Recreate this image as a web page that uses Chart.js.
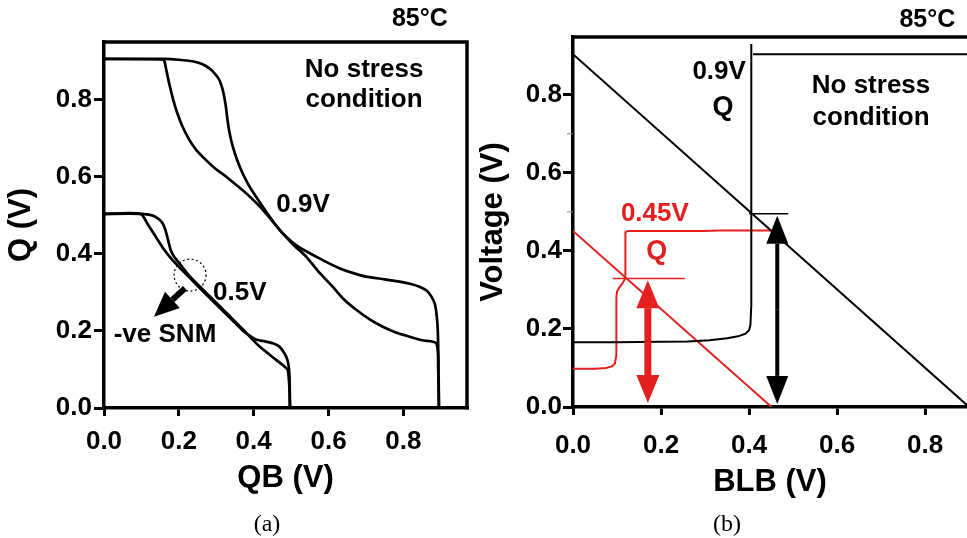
<!DOCTYPE html>
<html>
<head>
<meta charset="utf-8">
<script src="https://cdn.jsdelivr.net/npm/chart.js@4.4.0/dist/chart.umd.min.js"></script>
<style>
  html, body { margin: 0; padding: 0; background: #fff; }
  body { width: 967px; height: 538px; position: relative; overflow: hidden; }
  #chartA { position: absolute; left: 0; top: 0; }
  #chartB { position: absolute; left: 474px; top: 0; }
  .cap { position: absolute; top: 508px; width: 60px; line-height: 30px; text-align: center;
         font-family: 'Liberation Serif', 'Times New Roman', serif; font-size: 24px; color: #000; }
</style>
</head>
<body>
<canvas id="chartA" width="480" height="538"></canvas>
<canvas id="chartB" width="493" height="538"></canvas>
<div class="cap" style="left:237px">(a)</div>
<div class="cap" style="left:697px">(b)</div>
<script>
// ===== (a) 蝶形曲线 QB-Q =====
const xTicksA = [0.0, 0.2, 0.4, 0.6, 0.8];
const yTicksA = [0.0, 0.2, 0.4, 0.6, 0.8];

// 0.9V 第一条
const qbA1 = [0, 0.155, 0.161, 0.166, 0.174, 0.185, 0.196, 0.21, 0.228, 0.248, 0.272, 0.298, 0.326, 0.352, 0.379, 0.402, 0.424, 0.45, 0.477, 0.52, 0.567, 0.60, 0.629, 0.66, 0.70, 0.75, 0.79, 0.82, 0.843, 0.862, 0.875, 0.884, 0.889, 0.892, 0.894, 0.895];
const qA1  = [0.906, 0.905, 0.902, 0.88, 0.843, 0.80, 0.765, 0.73, 0.696, 0.668, 0.644, 0.621, 0.601, 0.58, 0.558, 0.537, 0.515, 0.485, 0.454, 0.418, 0.393, 0.376, 0.363, 0.352, 0.341, 0.334, 0.328, 0.322, 0.315, 0.305, 0.289, 0.27, 0.24, 0.2, 0.1, 0];
// 0.9V 第二条
const qbA2 = [0, 0.161, 0.2, 0.236, 0.262, 0.281, 0.296, 0.308, 0.316, 0.321, 0.326, 0.330, 0.336, 0.344, 0.356, 0.370, 0.387, 0.406, 0.433, 0.455, 0.477, 0.51, 0.54, 0.575, 0.611, 0.64, 0.674, 0.71, 0.745, 0.78, 0.817, 0.85, 0.888, 0.893, 0.895];
const qA2  = [0.906, 0.906, 0.904, 0.90, 0.893, 0.882, 0.868, 0.852, 0.83, 0.809, 0.78, 0.748, 0.712, 0.679, 0.643, 0.61, 0.578, 0.549, 0.51, 0.48, 0.454, 0.42, 0.393, 0.352, 0.315, 0.283, 0.255, 0.23, 0.211, 0.196, 0.185, 0.176, 0.168, 0.1, 0];
// 0.5V 第一条
const qbA3 = [0, 0.098, 0.129, 0.147, 0.156, 0.163, 0.169, 0.174, 0.179, 0.187, 0.198, 0.228, 0.272, 0.326, 0.370, 0.415, 0.46, 0.482, 0.491, 0.495, 0.497];
const qA3  = [0.504, 0.504, 0.50, 0.49, 0.48, 0.465, 0.445, 0.425, 0.408, 0.393, 0.380, 0.343, 0.300, 0.248, 0.205, 0.160, 0.125, 0.108, 0.099, 0.06, 0];
// 0.5V 第二条
const qbA4 = [0, 0.098, 0.118, 0.138, 0.16, 0.183, 0.228, 0.272, 0.326, 0.370, 0.392, 0.406, 0.43, 0.451, 0.468, 0.482, 0.49, 0.494, 0.496, 0.497];
const qA4  = [0.504, 0.504, 0.475, 0.445, 0.412, 0.384, 0.339, 0.296, 0.244, 0.202, 0.186, 0.178, 0.173, 0.168, 0.16, 0.142, 0.125, 0.105, 0.07, 0];

// ===== (b) BLB-Voltage =====
const xTicksB = [0.0, 0.2, 0.4, 0.6, 0.8];
const yTicksB = [0.0, 0.2, 0.4, 0.6, 0.8];
const yMinorB = [0.5, 0.7];

const blbLoad09 = [0, 0.9];
const vLoad09   = [0.904, 0.0];
const blbLoad045 = [0, 0.451];
const vLoad045   = [0.451, 0.0];
// 0.9V 的 Q 曲线
const blbQ09 = [0, 0.1, 0.2, 0.26, 0.31, 0.35, 0.375, 0.392, 0.400, 0.403, 0.405, 0.405];
const vQ09   = [0.166, 0.166, 0.167, 0.168, 0.171, 0.176, 0.181, 0.188, 0.197, 0.21, 0.26, 0.93];
const blbQ09Top = [0.409, 0.9];
const vQ09Top   = [0.904, 0.904];
// 0.45V 的 Q 曲线
const blbQ045 = [0, 0.05, 0.075, 0.088, 0.095, 0.098, 0.0985, 0.10, 0.105, 0.112, 0.117, 0.119, 0.119, 0.125, 0.30, 0.33, 0.451];
const vQ045   = [0.098, 0.098, 0.100, 0.104, 0.111, 0.13, 0.28, 0.296, 0.306, 0.316, 0.326, 0.34, 0.448, 0.451, 0.451, 0.452, 0.452];
// 标记线
const blbMarkRed = [0.09, 0.254];
const vMarkRed   = [0.329, 0.329];
const blbMarkBlack = [0.40, 0.489];
const vMarkBlack   = [0.495, 0.495];

const RED = '#e3201f';
const FONT = 'Arial, "Liberation Sans", sans-serif';
const AXIS_W = 3.5;

function pts(xs, ys) {
    return xs.map((x, i) => ({ x: x, y: ys[i] }));
}

function line(xs, ys, color, width, tension) {
    return {
        data: pts(xs, ys),
        showLine: true,
        borderColor: color,
        borderWidth: width,
        pointRadius: 0,
        tension: tension,
        fill: false
    };
}

function text(ctx, s, x, y, color, size) {
    ctx.save();
    ctx.font = 'bold ' + size + 'px ' + FONT;
    ctx.fillStyle = color;
    ctx.textAlign = 'center';
    ctx.textBaseline = 'middle';
    ctx.fillText(s, x, y);
    ctx.restore();
}

// 画箭头（尾 -> 尖）
function arrow(ctx, x1, y1, x2, y2, color, shaft, headW, headL) {
    const a = Math.atan2(y2 - y1, x2 - x1);
    const bx = x2 - headL * Math.cos(a), by = y2 - headL * Math.sin(a);
    ctx.save();
    ctx.strokeStyle = color;
    ctx.fillStyle = color;
    ctx.lineWidth = shaft;
    ctx.beginPath();
    ctx.moveTo(x1, y1);
    ctx.lineTo(bx, by);
    ctx.stroke();
    ctx.beginPath();
    ctx.moveTo(x2, y2);
    ctx.lineTo(bx + headW / 2 * Math.sin(a), by - headW / 2 * Math.cos(a));
    ctx.lineTo(bx - headW / 2 * Math.sin(a), by + headW / 2 * Math.cos(a));
    ctx.closePath();
    ctx.fill();
    ctx.restore();
}

function doubleArrow(ctx, x, yTop, yBot, color, shaft, headW, headL) {
    const mid = (yTop + yBot) / 2;
    arrow(ctx, x, mid, x, yTop, color, shaft, headW, headL);
    arrow(ctx, x, mid, x, yBot, color, shaft, headW, headL);
}

function makeScales(o) {
    return {
        x: {
            type: 'linear', min: 0, max: o.xMax,
            afterFit: s => { s.height = o.xH; },
            border: { display: true, color: '#000', width: AXIS_W },
            grid: { drawOnChartArea: false, drawTicks: true, tickLength: 8, color: '#000', lineWidth: 3 },
            ticks: {
                stepSize: 0.2, includeBounds: false, autoSkip: false, maxRotation: 0,
                color: '#000', padding: o.xPad,
                font: { family: FONT, size: 26, weight: 'bold' },
                callback: v => (o.xTicks.some(t => Math.abs(t - v) < 1e-6) ? v.toFixed(1) : '')
            },
            title: { display: true, text: o.xTitle, color: '#000', padding: { top: 0, bottom: 0 },
                     font: { family: FONT, size: 31, weight: 'bold' } }
        },
        y: {
            type: 'linear', min: 0, max: o.yMax,
            afterFit: s => { s.width = o.yW; },
            border: { display: true, color: '#000', width: AXIS_W },
            grid: { drawOnChartArea: false, drawTicks: true, tickLength: 10, color: '#000', lineWidth: 3 },
            ticks: {
                stepSize: 0.2, includeBounds: false, autoSkip: false,
                color: '#000', padding: o.yPad,
                font: { family: FONT, size: 26, weight: 'bold' },
                callback: v => (o.yTicks.some(t => Math.abs(t - v) < 1e-6) ? v.toFixed(1) : '')
            },
            title: { display: true, text: o.yTitle, color: '#000', padding: { top: o.yTitlePad, bottom: 0 },
                     font: { family: FONT, size: 31, weight: 'bold' } }
        }
    };
}

// 图 (a) 的注释
const notesA = {
    id: 'notesA',
    afterDraw(chart) {
        const ctx = chart.ctx, X = chart.scales.x, Y = chart.scales.y, a = chart.chartArea;
        const px = v => X.getPixelForValue(v), py = v => Y.getPixelForValue(v);
        // 上边框和右边框
        ctx.save();
        ctx.strokeStyle = '#000';
        ctx.lineWidth = AXIS_W;
        ctx.beginPath();
        ctx.moveTo(a.left - 1.5, a.top);
        ctx.lineTo(a.right, a.top);
        ctx.lineTo(a.right, a.bottom + 1.5);
        ctx.stroke();
        // 虚线圆
        ctx.lineWidth = 1.2;
        ctx.setLineDash([2, 2.5]);
        ctx.beginPath();
        ctx.arc(px(0.23), py(0.345), 16, 0, Math.PI * 2);
        ctx.stroke();
        ctx.restore();
        arrow(ctx, px(0.2165), py(0.311), px(0.1336), py(0.237), '#000', 6, 22, 25);

        text(ctx, '85°C', px(0.844), py(1.01), '#000', 25);
        text(ctx, 'No stress', px(0.695), py(0.877), '#000', 26);
        text(ctx, 'condition', px(0.695), py(0.80), '#000', 26);
        text(ctx, '0.9V', px(0.532), py(0.527), '#000', 26);
        text(ctx, '0.5V', px(0.363), py(0.298), '#000', 26);
        text(ctx, '-ve SNM', px(0.163), py(0.19), '#000', 26);
    }
};

// 图 (b) 的注释
const notesB = {
    id: 'notesB',
    afterDraw(chart) {
        const ctx = chart.ctx, X = chart.scales.x, Y = chart.scales.y, a = chart.chartArea;
        const px = v => X.getPixelForValue(v), py = v => Y.getPixelForValue(v);
        ctx.save();
        ctx.strokeStyle = '#000';
        ctx.lineWidth = AXIS_W;
        ctx.beginPath();
        ctx.moveTo(a.left - 1.5, a.top);
        ctx.lineTo(chart.width, a.top);
        ctx.stroke();
        // 次刻度
        ctx.strokeStyle = '#888';
        ctx.lineWidth = 1;
        yMinorB.forEach(v => {
            ctx.beginPath();
            ctx.moveTo(a.left - 6, py(v));
            ctx.lineTo(a.left, py(v));
            ctx.stroke();
        });
        ctx.restore();

        doubleArrow(ctx, px(0.17), py(0.325), py(0.01), RED, 7, 23, 28);
        doubleArrow(ctx, px(0.464), py(0.49), py(0.008), '#000', 4, 22, 28);

        text(ctx, '85°C', px(0.805), py(0.992), '#000', 25);
        text(ctx, '0.9V', px(0.332), py(0.858), '#000', 26);
        text(ctx, 'Q', px(0.341), py(0.766), '#000', 27);
        text(ctx, 'No stress', px(0.677), py(0.822), '#000', 26);
        text(ctx, 'condition', px(0.677), py(0.740), '#000', 26);
        text(ctx, '0.45V', px(0.186), py(0.494), RED, 26);
        text(ctx, 'Q', px(0.190), py(0.398), RED, 27);
    }
};

const common = {
    responsive: false,
    animation: false,
    plugins: { legend: { display: false }, tooltip: { enabled: false } }
};

new Chart(document.getElementById('chartA'), {
    type: 'scatter',
    data: {
        datasets: [
            line(qbA1, qA1, '#000', 2.7, 0.25),
            line(qbA2, qA2, '#000', 2.7, 0.25),
            line(qbA3, qA3, '#000', 2.7, 0.2),
            line(qbA4, qA4, '#000', 2.7, 0.2)
        ]
    },
    options: Object.assign({}, common, {
        layout: { padding: { left: 0, top: 42, right: 13, bottom: 41 } },
        scales: makeScales({
            xMax: 0.97, yMax: 0.95, xH: 89, yW: 104, xPad: 10, yPad: 2,
            xTicks: xTicksA, yTicks: yTicksA, xTitle: 'QB (V)', yTitle: 'Q (V)', yTitlePad: 3
        })
    }),
    plugins: [notesA]
});

new Chart(document.getElementById('chartB'), {
    type: 'scatter',
    data: {
        datasets: [
            line(blbLoad09, vLoad09, '#000', 2, 0),
            line(blbQ09, vQ09, '#000', 2, 0),
            line(blbQ09Top, vQ09Top, '#000', 2, 0),
            line(blbMarkBlack, vMarkBlack, '#000', 1.5, 0),
            line(blbLoad045, vLoad045, RED, 2, 0),
            line(blbQ045, vQ045, RED, 2, 0),
            line(blbMarkRed, vMarkRed, RED, 1.5, 0)
        ]
    },
    options: Object.assign({}, common, {
        layout: { padding: { left: 0, top: 37, right: 0, bottom: 37 } },
        scales: makeScales({
            xMax: 0.895, yMax: 0.948, xH: 94, yW: 99, xPad: 15, yPad: 1,
            xTicks: xTicksB, yTicks: yTicksB, xTitle: 'BLB (V)', yTitle: 'Voltage (V)', yTitlePad: 1
        })
    }),
    plugins: [notesB]
});
</script>
</body>
</html>
